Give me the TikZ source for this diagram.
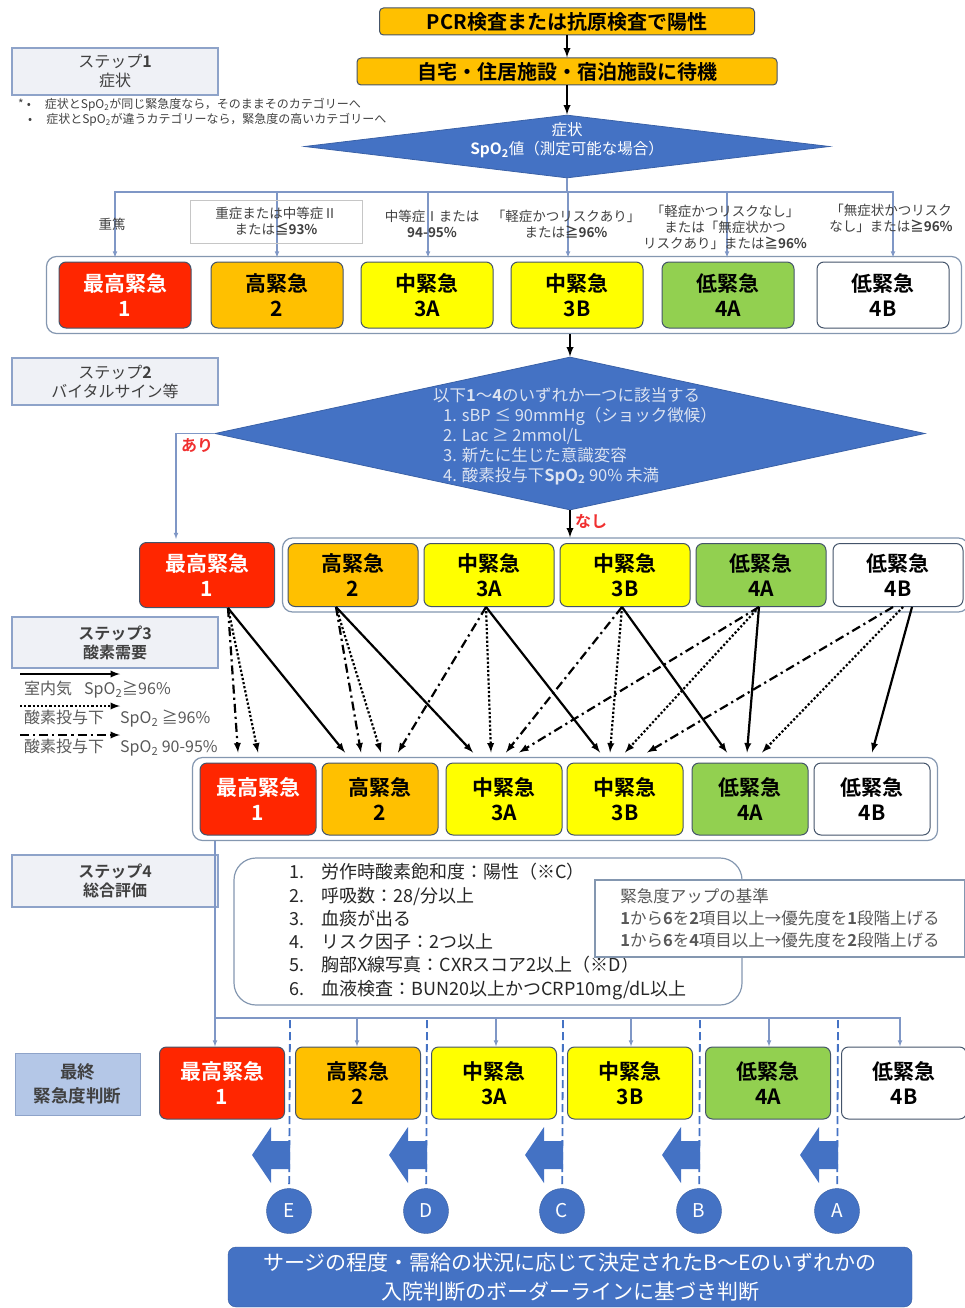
\documentclass[tikz,border=0pt]{standalone}
\usepackage{fontspec}
\setmainfont{Noto Sans CJK JP}[BoldFont={Noto Sans CJK JP Bold}]
\usetikzlibrary{shapes.geometric,fit,backgrounds,positioning}

\definecolor{kred}{HTML}{FF2600}
\definecolor{korange}{HTML}{FFC000}
\definecolor{kyellow}{HTML}{FFFF00}
\definecolor{kgreen}{HTML}{92D050}
\definecolor{kblue}{HTML}{4472C4}
\definecolor{boxline}{HTML}{44546A}
\definecolor{grpline}{HTML}{8497B0}
\definecolor{treeline}{HTML}{7F97C6}
\definecolor{stepline}{HTML}{8EA3C9}
\definecolor{stepfill}{HTML}{EFF1F6}
\definecolor{finalfill}{HTML}{B4C7E7}
\definecolor{darktxt}{HTML}{404040}
\definecolor{greytxt}{HTML}{595959}
\definecolor{difftxt}{HTML}{DCE3F1}
\definecolor{yesno}{HTML}{F03030}

\newcommand{\fsz}[2]{\fontsize{#1}{#2}\selectfont}
\newcommand{\spo}{SpO\textsubscript{2}}

\tikzset{
  lvl/.style={draw=boxline, line width=1pt, rounded corners=7pt, inner sep=0pt,
    align=center, font=\fsz{21}{25}\bfseries},
  grp/.style={draw=grpline, line width=1.2pt, rounded corners=10pt, fill=white},
  stepbox/.style={draw=stepline, fill=stepfill, line width=1.2pt, minimum width=206pt,
    minimum height=47pt, align=center, text=darktxt, font=\fsz{16}{19}},
  start/.style={draw=boxline, line width=1pt, fill=korange, rounded corners=4pt,
    minimum height=27pt, font=\fsz{20}{22}\bfseries},
  dia/.style={diamond, fill=kblue, draw=kblue!85!black, line width=0.8pt, inner sep=0pt},
  flow/.style={line width=2.2pt, -latex},
  tree/.style={draw=treeline, line width=1.1pt, -latex},
  room/.style={line width=2.2pt, -latex},
  oxy/.style={line width=2.2pt, dash pattern=on 2.2pt off 2pt, -latex},
  low/.style={line width=2.2pt, dash pattern=on 9pt off 4pt on 2.2pt off 4pt, -latex},
  lbl/.style={align=center, font=\fsz{13.5}{16}, text=darktxt},
  border/.style={draw=kblue, line width=1.8pt, dash pattern=on 8pt off 4pt},
  tagc/.style={circle, fill=kblue, draw=kblue!80!black, minimum size=45pt, inner sep=0pt,
    text=white, font=\fsz{19}{20}},
}

\begin{document}
\begin{tikzpicture}[x=1pt,y=-1pt]
\useasboundingbox (0,0) rectangle (965,1308);

% step 1
\node[start, minimum width=375pt] (pcr) at (567,21.5) {PCR検査または抗原検査で陽性};
\node[start, minimum width=420pt] (home) at (567,71.5) {自宅・住居施設・宿泊施設に待機};
\draw[flow] (pcr) -- (home);
\node[dia, minimum width=525pt, minimum height=63pt] (d1) at (567,146.5) {};
\node[text=white, align=center, font=\fsz{15.5}{19}] (d1t) at (567,140) {症状\\{\bfseries\spo}値（測定可能な場合）};
\draw[flow] (home) -- (d1);

\node[stepbox] (st1) at (115,71.5) {ステップ{\bfseries 1}\\症状};
\node[anchor=west, inner sep=0pt, font=\fsz{12}{13}, text=darktxt] (nt1) at (18,105) {*\hspace{3pt}•\hspace{14pt}症状と\spo が同じ緊急度なら，そのままそのカテゴリーへ};
\node[anchor=west, inner sep=0pt, font=\fsz{12}{13}, text=darktxt] (nt2) at (28,120) {•\hspace{14pt}症状と\spo が違うカテゴリーなら，緊急度の高いカテゴリーへ};

\foreach \n/\x/\c/\ta/\tc in {1/125/kred/最高緊急/white, 2/277/korange/高緊急/black,
  3A/427/kyellow/中緊急/black, 3B/577/kyellow/中緊急/black,
  4A/728/kgreen/低緊急/black, 4B/883/white/低緊急/black}
  \node[lvl, fill=\c, text=\tc, minimum width=132pt, minimum height=66pt] (r1-\n) at (\x,295) {\ta\\\n};
\begin{scope}[on background layer]
\node[grp, fit=(r1-1)(r1-4B), inner xsep=12pt, inner ysep=5pt] (g1) {};
\end{scope}

\coordinate (br) at (567,192);
\draw[draw=treeline, line width=1.1pt] (d1.south) -- (br);
\foreach \n/\dx in {1/-10,2/0,3A/1,3B/-9,4A/-1,4B/10}
  \draw[tree] (br) -| ([xshift=\dx pt, yshift=4pt]r1-\n.north);

\node[lbl] (k1) at (112,224) {重篤};
\node[lbl, draw=gray!45, line width=0.6pt, minimum width=172pt, minimum height=43pt] (k2) at (276,221.5) {重症または中等症Ⅱ\\または{\bfseries ≦93\%}};
\node[lbl] (k3) at (432,224) {中等症Ⅰまたは\\{\bfseries 94-95\%}};
\node[lbl] (k4) at (566,224) {「軽症かつリスクあり」\\または{\bfseries ≧96\%}};
\node[lbl] (k5) at (725,227) {「軽症かつリスクなし」\\または「無症状かつ\\リスクあり」または{\bfseries ≧96\%}};
\node[lbl] (k6) at (891,218) {「無症状かつリスク\\なし」または{\bfseries ≧96\%}};

% step 2
\node[stepbox] (st2) at (115,381.5) {ステップ{\bfseries 2}\\バイタルサイン等};
\node[dia, minimum width=710pt, minimum height=153pt] (d2) at (570,433.5) {};
\node[anchor=north west, align=left, inner sep=0pt, text=difftxt, font=\fsz{16.5}{20}] (d2t) at (433,387) {以下{\bfseries 1}～{\bfseries 4}のいずれか一つに該当する\\
  \hspace{10pt}1. sBP ≤ 90mmHg（ショック徴候）\\
  \hspace{10pt}2. Lac ≥ 2mmol/L\\
  \hspace{10pt}3. 新たに生じた意識変容\\
  \hspace{10pt}4. 酸素投与下{\bfseries\spo} 90\% 未満};
\draw[flow] (g1.south -| d2.north) -- (d2.north);

\node[lvl, fill=kred, text=white, minimum width=135pt, minimum height=65pt] (r2-1) at (207,575) {最高緊急\\1};
\foreach \n/\x/\c/\ta in {2/353/korange/高緊急, 3A/489/kyellow/中緊急, 3B/625/kyellow/中緊急,
  4A/761/kgreen/低緊急, 4B/898/white/低緊急}
  \node[lvl, fill=\c, minimum width=130pt, minimum height=63pt] (r2-\n) at (\x,575) {\ta\\\n};
\begin{scope}[on background layer]
\node[grp, fit=(r2-2)(r2-4B), inner xsep=5pt, inner ysep=5pt] (g2) {};
\end{scope}

\draw[tree] (d2.west) -| ([xshift=-31pt,yshift=3pt]r2-1.north);
\node[text=yesno, font=\fsz{16}{18}\bfseries] (yes) at (197,446) {あり};
\draw[flow] (d2.south) -- (d2.south |- g2.north);
\node[text=yesno, font=\fsz{16}{18}\bfseries] (no) at (591,521) {なし};

% step 3
\node[stepbox, font=\fsz{16}{19}\bfseries, minimum height=51pt] (st3) at (115,642.5) {ステップ3\\酸素需要};
\draw[room] (20,674) -- (120,674);
\node[anchor=west, inner sep=0pt, font=\fsz{16}{18}, text=greytxt] (lg1) at (24,690) {室内気\hspace{12pt}\spo≧96\%};
\draw[oxy] (20,706) -- (120,706);
\node[anchor=west, inner sep=0pt, font=\fsz{16}{18}, text=greytxt] (lg2) at (24,719) {酸素投与下\hspace{16pt}\spo\ ≧96\%};
\draw[low] (20,735) -- (120,735);
\node[anchor=west, inner sep=0pt, font=\fsz{16}{18}, text=greytxt] (lg3) at (24,748) {酸素投与下\hspace{16pt}\spo\ 90-95\%};

\foreach \n/\x/\c/\ta/\tc in {1/258/kred/最高緊急/white, 2/380/korange/高緊急/black,
  3A/504/kyellow/中緊急/black, 3B/625/kyellow/中緊急/black,
  4A/750/kgreen/低緊急/black, 4B/872/white/低緊急/black}
  \node[lvl, fill=\c, text=\tc, minimum width=116pt, minimum height=72pt] (r3-\n) at (\x,799) {\ta\\\n};
\begin{scope}[on background layer]
\node[grp, fit=(r3-1)(r3-4B), inner xsep=7pt, inner ysep=5pt] (g3) {};
\end{scope}

\foreach \a/\sx/\b/\ex/\st in {1/21/1/-20/low, 1/21/1/0/oxy, 1/21/2/-35/room,
  2/-17/2/-19/low, 2/-17/2/1/oxy, 2/-17/3A/-31/room,
  3A/-3/2/18/low, 3A/-3/3A/-13/oxy, 3A/-3/3B/-25/room,
  3B/-3/3A/2/low, 3B/-3/3B/-15/oxy, 3B/-3/4A/-23/room,
  4A/-2/3A/15/low, 4A/-2/3B/0/oxy, 4A/-2/4A/-3/room,
  4B/-5/3B/22/low, 4B/5/4A/12/oxy, 4B/14/4B/0/room}
  \draw[\st] ([xshift=\sx pt]r2-\a.south) -- ([xshift=\ex pt,yshift=10pt]r3-\b.north);

% step 4
\node[stepbox, font=\fsz{16}{19}\bfseries, minimum height=52pt] (st4) at (115,881) {ステップ4\\総合評価};
\node[draw=grpline, line width=1.2pt, rounded corners=22pt, minimum width=508pt, minimum height=147pt,
  align=left, font=\fsz{18}{23.3}, text=black!85] (crit) at (488,931.5) {%
  \makebox[32pt][l]{1.}労作時酸素飽和度：陽性（※C）\\
  \makebox[32pt][l]{2.}呼吸数：28/分以上\\
  \makebox[32pt][l]{3.}血痰が出る\\
  \makebox[32pt][l]{4.}リスク因子：2つ以上\\
  \makebox[32pt][l]{5.}胸部X線写真：CXRスコア2以上（※D）\\
  \makebox[32pt][l]{6.}血液検査：BUN20以上かつCRP10mg/dL以上};
\node[draw=grpline, fill=white, line width=1.2pt, minimum width=370pt, minimum height=77pt,
  align=left, font=\fsz{16.5}{22}, text=greytxt] (up) at (780,918.5) {%
  緊急度アップの基準\\
  {\bfseries 1}から{\bfseries 6}を{\bfseries 2}項目以上→優先度を{\bfseries 1}段階上げる\\
  {\bfseries 1}から{\bfseries 6}を{\bfseries 4}項目以上→優先度を{\bfseries 2}段階上げる};

% final
\node[draw=stepline, fill=finalfill, line width=1pt, minimum width=125pt, minimum height=62pt,
  align=center, font=\fsz{17.5}{24}\bfseries, text=darktxt] (fin) at (77.5,1084) {最終\\緊急度判断};
\foreach \n/\x/\c/\ta/\tc in {1/222/kred/最高緊急/white, 2/358/korange/高緊急/black,
  3A/494/kyellow/中緊急/black, 3B/630/kyellow/中緊急/black,
  4A/768/kgreen/低緊急/black, 4B/904/white/低緊急/black}
  \node[lvl, fill=\c, text=\tc, minimum width=125pt, minimum height=72pt] (f-\n) at (\x,1083) {\ta\\\n};

\coordinate (hub) at (215,1018);
\draw[tree] (hub |- g3.south) -- (hub |- f-1.north);
\foreach \n/\dx in {2/-1,3A/2,3B/1,4A/1,4B/-4}
  \draw[tree] (hub) -| ([xshift=\dx pt]f-\n.north);

\foreach \x/\l in {290/E,427/D,563/C,700/B,838/A} {
  \fill[kblue] (\x,1141) -- (\x-19,1141) -- (\x-19,1127) -- (\x-38,1155)
    -- (\x-19,1183) -- (\x-19,1169) -- (\x,1169) -- cycle;
  \node[tagc] (c\l) at (\x-1,1211) {\l};
  \draw[border] (\x,1020) -- (c\l);
}

\node[fill=kblue, draw=kblue!80!black, rounded corners=8pt, minimum width=684pt, minimum height=60pt,
  align=center, text=white, font=\fsz{21}{29}] (ban) at (570,1277) {サージの程度・需給の状況に応じて決定されたB～Eのいずれかの\\入院判断のボーダーラインに基づき判断};

\end{tikzpicture}
\end{document}
